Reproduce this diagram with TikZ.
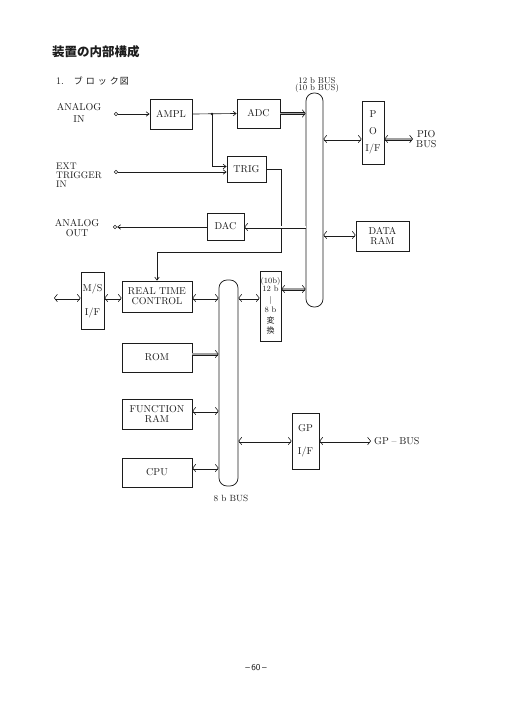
\documentclass[tikz,border=0pt]{standalone}
\usepackage{fontspec}
\newfontfamily\jp{Noto Sans CJK JP}
\usetikzlibrary{arrows.meta}

% twin-rail bus link: core colour, from, to
\newcommand{\dlink}[3]{%
  \draw[rail, shorten <=1pt, shorten >=1pt, transform canvas={yshift=1.15pt}] #2 -- #3;
  \draw[rail, shorten <=1pt, shorten >=1pt, transform canvas={yshift=-1.15pt}] #2 -- #3;
  \draw[core=#1, barbboth] #2 -- #3;}
\newcommand{\dlinkr}[3]{%
  \draw[rail, shorten >=1pt, transform canvas={yshift=1.15pt}] #2 -- #3;
  \draw[rail, shorten >=1pt, transform canvas={yshift=-1.15pt}] #2 -- #3;
  \draw[core=#1, barbend] #2 -- #3;}

\begin{document}
\begin{tikzpicture}[
    x=1pt, y=-1pt,
    every node/.style={align=center, inner sep=0pt, text=inkcolor,
        font=\fontsize{10}{10}\selectfont\addfontfeatures{LetterSpace=7}},
    blk/.style={draw=inkcolor, line width=0.75pt},
    bus/.style={draw=inkcolor, line width=0.75pt, rounded corners=8pt},
    term/.style={circle, draw=inkcolor, line width=0.6pt, minimum size=3.6pt},
    sig/.style={draw=inkcolor, line width=0.65pt, -{Straight Barb[length=3pt,width=4.5pt]}},
    rail/.style={draw=inkcolor, line width=0.6pt},
    core/.style={draw=#1, line width=1.7pt},
    barbboth/.style={{Straight Barb[color=inkcolor,line width=0.6pt,length=3pt,width=7.5pt]}-{Straight Barb[color=inkcolor,line width=0.6pt,length=3pt,width=7.5pt]}},
    barbend/.style={-{Straight Barb[color=inkcolor,line width=0.6pt,length=3pt,width=7.5pt]}},
]

% Colors
\definecolor{inkcolor}{HTML}{1c1c1c}
\definecolor{pipecolor}{HTML}{a0a0a0}

\useasboundingbox (0,0) rectangle (515,726);

% Heading
\node[anchor=west, font=\jp\bfseries\fontsize{12.5}{14}\selectfont] (title) at (52,52) {装置の内部構成};
\node[anchor=west] (sub) at (56,81) {1.\hspace{10pt}{\jp\fontsize{9}{10}\selectfont ブ\hspace{3pt}ロ\hspace{3pt}ッ\hspace{3pt}ク\hspace{1pt}図}};

% Buses
\node[bus, minimum width=17pt, minimum height=214pt] (bus12) at (314.5,200) {};
\node[bus, minimum width=19pt, minimum height=206pt] (bus8) at (228.5,383) {};
\node[font=\fontsize{8.5}{7}\selectfont] (bus12lbl) at (317,85) {12 b BUS\\(10 b BUS)};
\node[font=\fontsize{9}{9}\selectfont] (bus8lbl) at (231,498) {8 b BUS};

% Blocks
\node[blk, minimum width=42pt, minimum height=30pt] (ampl) at (171,114) {AMPL};
\node[blk, minimum width=43pt, minimum height=29pt] (adc) at (258.5,113.5) {ADC};
\node[blk, minimum width=39pt, minimum height=26pt] (trig) at (246.5,169.5) {TRIG};
\node[blk, minimum width=37pt, minimum height=27pt] (dac) at (225.5,226.5) {DAC};
\node[blk, minimum width=22pt, minimum height=63pt] (pio) at (373,132.5) {P\\[7pt]O\\[7pt]I/F};
\node[blk, minimum width=53pt, minimum height=30pt] (dataram) at (382.5,236) {DATA\\RAM};
\node[blk, minimum width=23pt, minimum height=57pt] (ms) at (92.5,300.5) {M/S\\[14pt]I/F};
\node[blk, minimum width=70pt, minimum height=31pt] (rtc) at (157,296.5) {REAL TIME\\CONTROL};
\node[blk, minimum width=21pt, minimum height=70pt, font=\fontsize{8}{10.5}\selectfont] (conv) at (270.5,306)
    {(10b)\\[-2pt]12 b\\$|$\\8 b\\{\jp 変}\\{\jp 換}};
\node[blk, minimum width=70pt, minimum height=29pt] (rom) at (157,357.5) {ROM};
\node[blk, minimum width=70pt, minimum height=30pt] (fram) at (157,414) {FUNCTION\\RAM};
\node[blk, minimum width=70pt, minimum height=29pt] (cpu) at (157,472.5) {CPU};
\node[blk, minimum width=27pt, minimum height=56pt] (gp) at (305.5,441) {GP\\[13pt]I/F};

% Terminals and outside labels
\node[term] (ain) at (116,114) {};
\node[term] (extin) at (116,172) {};
\node[term] (aout) at (115,227) {};
\node (ainlbl) at (79,113) {ANALOG\\[2pt]IN};
\node[anchor=west, align=left, font=\fontsize{9.5}{9}\selectfont] (extlbl) at (56,175) {EXT\\TRIGGER\\IN};
\node (aoutlbl) at (77,228) {ANALOG\\OUT};
\node[anchor=west, inner xsep=3pt] (piobus) at (413,139) {PIO\\BUS};
\node[anchor=west, inner xsep=3pt] (gpbus) at (371,441) {GP\;--\;BUS};
\coordinate (msext) at (54,298);
\coordinate (jn) at (212,114);
\coordinate (trigturn) at (281,252);

% Signal lines
\draw[sig] (ain) -- (ampl.west);
\draw[sig] (ampl.east) -- (adc.west);
\fill[inkcolor] (jn) circle (1.4pt);
\draw[sig] (jn) |- ([yshift=3pt]trig.west);
\draw[sig] (extin) -- (extin -| trig.west);
\draw[sig] (trig.east) -| (trigturn) -| (rtc.north);
\draw[sig] (dac.west |- 0,227) -- (aout);

% Bus connections
\dlinkr{pipecolor}{(adc.east)}{(adc.east -| bus12.west)}
\dlink{white}{(bus12.east |- 0,139)}{(pio.west |- 0,139)}
\dlink{pipecolor}{(pio.east |- 0,139)}{(piobus.west |- 0,139)}
\dlinkr{white}{(bus12.west |- 0,227)}{(dac.east |- 0,227)}
\dlink{white}{(bus12.east |- 0,235)}{(dataram.west |- 0,235)}
\dlink{pipecolor}{(bus12.west |- 0,289)}{(conv.east |- 0,289)}
\dlink{white}{(bus8.east |- 0,298)}{(conv.west |- 0,298)}
\dlink{white}{(rtc.east |- 0,298)}{(bus8.west |- 0,298)}
\dlink{white}{(ms.east |- 0,298)}{(rtc.west |- 0,298)}
\dlink{white}{(msext)}{(ms.west |- msext)}
\dlinkr{pipecolor}{(rom.east |- 0,354)}{(bus8.west |- 0,354)}
\dlink{white}{(fram.east |- 0,411)}{(bus8.west |- 0,411)}
\dlink{white}{(cpu.east |- 0,468)}{(bus8.west |- 0,468)}
\dlink{white}{(bus8.east |- gp.west)}{(gp.west)}
\dlink{white}{(gp.east)}{(gpbus.west)}

% Page number
\node[font=\sffamily\fontsize{9}{10}\selectfont] (pageno) at (256,668) {--\,60\,--};

\end{tikzpicture}
\end{document}
